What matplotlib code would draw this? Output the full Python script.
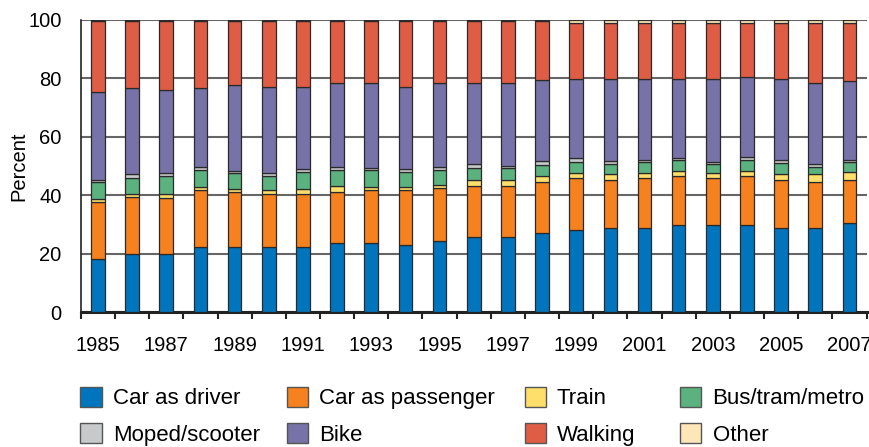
import numpy as np
import matplotlib.pyplot as plt
from matplotlib.patches import Patch

plt.rcParams["font.family"] = ["Liberation Sans", "DejaVu Sans"]
plt.rcParams["font.size"] = 14.5

years = list(range(1985, 2008))

car_driver = [18.1, 20.0, 20.0, 22.2, 22.2, 22.2, 22.2, 23.5, 23.5, 22.9, 24.2, 25.6,
              25.6, 26.9, 28.2, 28.8, 28.8, 29.6, 29.6, 29.6, 28.8, 28.8, 30.3]
car_passenger = [19.7, 19.2, 19.1, 19.5, 18.8, 18.1, 18.1, 17.5, 18.2, 18.7, 18.1, 17.5,
                 17.5, 17.6, 17.6, 16.3, 17.0, 16.8, 16.2, 16.8, 16.3, 15.8, 14.8]
train = [1.0, 1.0, 1.1, 1.2, 1.2, 1.3, 1.9, 2.1, 0.9, 1.0, 1.1, 1.9,
         1.9, 1.9, 1.9, 2.0, 1.9, 1.9, 1.9, 1.9, 2.0, 2.6, 2.8]
bus_tram_metro = [5.8, 5.7, 6.3, 5.7, 5.2, 5.0, 5.8, 5.5, 5.9, 5.4, 5.3, 4.1,
                  4.1, 4.0, 3.5, 3.6, 3.5, 3.7, 2.9, 3.7, 4.0, 2.5, 3.3]
moped_scooter = [0.5, 1.4, 1.0, 0.9, 0.8, 1.1, 0.8, 0.9, 0.9, 0.8, 0.8, 1.4,
                 1.0, 1.4, 1.6, 1.1, 0.7, 0.8, 0.6, 0.9, 0.8, 0.8, 0.7]
bike = [30.0, 29.2, 28.3, 27.0, 29.6, 29.4, 28.3, 29.0, 29.0, 28.3, 28.9, 27.9,
        28.3, 27.4, 26.9, 27.9, 27.8, 26.9, 28.5, 27.4, 27.8, 27.9, 27.2]
walking = [24.4, 23.0, 23.7, 23.0, 21.7, 22.4, 22.4, 21.0, 21.1, 22.4, 21.1, 21.1,
           21.1, 20.3, 19.2, 19.2, 19.2, 19.2, 19.2, 18.6, 19.2, 20.5, 19.8]
other = [0.5, 0.5, 0.5, 0.5, 0.5, 0.5, 0.5, 0.5, 0.5, 0.5, 0.5, 0.5,
         0.5, 0.5, 1.1, 1.1, 1.1, 1.1, 1.1, 1.1, 1.1, 1.1, 1.1]

modes = ["Car as driver", "Car as passenger", "Train", "Bus/tram/metro",
         "Moped/scooter", "Bike", "Walking", "Other"]
series = [car_driver, car_passenger, train, bus_tram_metro,
          moped_scooter, bike, walking, other]
colors = ["#0075be", "#f5821f", "#ffdf6b", "#5bb27f",
          "#c8c9cb", "#7772a8", "#df5d44", "#fde6b8"]

x = np.arange(len(years))
edge = "#2a2a2a"

fig = plt.figure(figsize=(8.7, 4.47), dpi=100)
ax = fig.add_axes([0.093, 0.302, 0.903, 0.654])

bottom = np.zeros(len(years))
for vals, col in zip(series, colors):
    ax.bar(x, vals, width=0.40, bottom=bottom, color=col,
           edgecolor=edge, linewidth=0.9, zorder=3)
    bottom += np.array(vals)

ax.set_xlim(-0.5, len(years) - 0.5)
ax.set_ylim(0, 100)
ax.set_yticks(range(0, 101, 20))
ax.yaxis.grid(True, color="#666666", linewidth=1.5, zorder=0)
ax.set_axisbelow(True)

# tick marks between bars, year labels under every other bar
ax.set_xticks(np.arange(-0.5, len(years), 1.0))
ax.set_xticklabels([])
ax.set_xticks(x[::2], minor=True)
ax.set_xticklabels([str(y) for y in years[::2]], minor=True)
ax.tick_params(axis="x", which="major", length=5, width=1.5, color="#222222", direction="out")
ax.tick_params(axis="x", which="minor", length=0, pad=17, labelsize=14.5)
ax.tick_params(axis="y", length=0, pad=14, labelsize=14.5)

for side in ["top", "right"]:
    ax.spines[side].set_visible(False)
ax.spines["left"].set_color("#222222")
ax.spines["left"].set_linewidth(1.2)
ax.spines["bottom"].set_color("#222222")
ax.spines["bottom"].set_linewidth(2.2)

ax.set_ylabel("Percent", fontsize=14.5, labelpad=0)

# one small legend per column so each column sits at its own x
handles = [Patch(facecolor=c, edgecolor="#555555", linewidth=1.0, label=m)
           for m, c in zip(modes, colors)]
col_x = [0.0925, 0.330, 0.603, 0.782]
for i, cx in enumerate(col_x):
    pair = [handles[i], handles[i + 4]]
    fig.legend(pair, [h.get_label() for h in pair],
               loc="upper left", bbox_to_anchor=(cx, 0.135),
               frameon=False, fontsize=16, handlelength=0.95, handleheight=1.0,
               handletextpad=0.5, labelspacing=0.62,
               borderaxespad=0, borderpad=0)

fig.savefig("out.png", dpi=100)
